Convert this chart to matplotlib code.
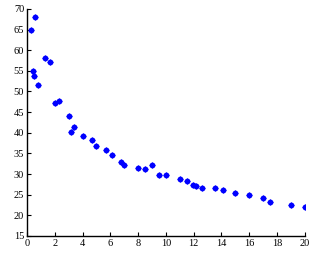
import numpy as np
import matplotlib.pyplot as plt

# data
x_vals = [0.3, 0.6, 0.41, 0.5, 0.81, 1.32, 1.68, 2.0, 2.3, 3.0, 3.4, 3.17, 4.0, 4.7, 5.0,
          5.7, 6.1, 6.8, 7.0, 8.0, 8.5, 9.0, 9.5, 10.0, 11.0, 11.5, 11.96, 12.2, 12.6,
          13.5, 14.1, 15.0, 16.0, 17.0, 17.5, 19.0, 20.0]
y_vals = [64.8, 68.1, 54.9, 53.8, 51.6, 58.2, 57.1, 47.2, 47.8, 44.0, 41.4, 40.1, 39.1, 38.3, 36.9,
          35.8, 34.65, 33.0, 32.2, 31.4, 31.2, 32.2, 29.7, 29.7, 28.8, 28.4, 27.3, 27.1, 26.7,
          26.5, 26.1, 25.4, 25.0, 24.2, 23.2, 22.4, 22.0]
x_ticks = np.arange(0, 21, 2)
y_ticks = np.arange(15, 71, 5)

plt.rcParams['font.family'] = ['Liberation Serif', 'DejaVu Serif']

fig = plt.figure(figsize=(3.13, 2.54), dpi=100)
ax = fig.add_axes([0.086, 0.071, 0.888, 0.894])

ax.plot(x_vals, y_vals, 'o', color='#0000ff', markersize=4.2, markeredgewidth=0)
ax.plot(x_vals, y_vals, '+', color='#0000ff', markersize=5, markeredgewidth=0.8)

ax.set_xlim(0, 20)
ax.set_ylim(15, 70)
ax.set_xticks(x_ticks)
ax.set_yticks(y_ticks)
ax.tick_params(direction='in', length=3, width=0.8, labelsize=7.5, pad=2)
ax.spines['top'].set_visible(False)
ax.spines['right'].set_visible(False)
for s in ['left', 'bottom']:
    ax.spines[s].set_linewidth(1.0)

fig.savefig('out.png', dpi=100)
